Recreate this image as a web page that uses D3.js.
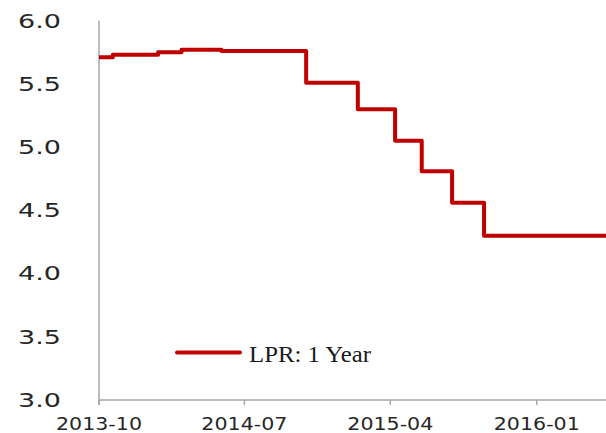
<!DOCTYPE html>
<html>
<head>
<meta charset="utf-8">
<script src="https://cdn.jsdelivr.net/npm/d3@7"></script>
<style>
  body { margin: 0; background: #fff; }
  svg { display: block; }
</style>
</head>
<body>
<script>
// LPR 1 year, step dates and levels
var stepDates = ["2013-10-01", "2013-10-27", "2014-01-20", "2014-03-05", "2014-05-19",
  "2014-10-25", "2015-01-30", "2015-04-10", "2015-05-30", "2015-07-26", "2015-09-24", "2016-05-10"];
var stepValues = [5.71, 5.73, 5.75, 5.77, 5.76, 5.51, 5.30, 5.05, 4.81, 4.56, 4.30, 4.30];
var xTickDates = ["2013-10-01", "2014-07-01", "2015-04-01", "2016-01-01"];
var yTicks = [3.0, 3.5, 4.0, 4.5, 5.0, 5.5, 6.0];
var seriesName = "LPR: 1 Year";

var w = 606, h = 433;
var parse = d3.timeParse("%Y-%m-%d");
var fmt = d3.timeFormat("%Y-%m");

var data = stepDates.map(function (d, i) { return {date: parse(d), value: stepValues[i]}; });

var x = d3.scaleTime()
  .domain([parse("2013-10-01"), parse("2016-05-10")])
  .range([99, 606]);
var y = d3.scaleLinear().domain([3, 6]).range([400, 20.7]);

var svg = d3.select("body").append("svg")
  .attr("width", w)
  .attr("height", h);

var axisColor = "#a6a6a6";

// y axis line (runs a little past the x axis)
svg.append("line")
  .attr("x1", x.range()[0]).attr("x2", x.range()[0])
  .attr("y1", y(6)).attr("y2", y(3) + 5)
  .style("stroke", axisColor).style("stroke-width", 1.5);

// x axis line and ticks
svg.append("line")
  .attr("x1", x.range()[0]).attr("x2", x.range()[1])
  .attr("y1", y(3)).attr("y2", y(3))
  .style("stroke", axisColor).style("stroke-width", 1.5);

svg.selectAll(".xtick")
  .data(xTickDates.map(parse))
  .enter().append("line")
  .attr("class", "xtick")
  .attr("x1", function (d) { return x(d); }).attr("x2", function (d) { return x(d); })
  .attr("y1", y(3)).attr("y2", y(3) + 5)
  .style("stroke", axisColor).style("stroke-width", 1.5);

// tick labels
svg.selectAll(".ylabel")
  .data(yTicks)
  .enter().append("text")
  .attr("class", "ylabel")
  .attr("x", 18)
  .attr("y", function (d) { return y(d) + 6.8; })
  .attr("textLength", 43)
  .attr("lengthAdjust", "spacingAndGlyphs")
  .style("font-family", "DejaVu Sans")
  .style("font-size", "19px")
  .style("fill", "#262626")
  .text(function (d) { return d.toFixed(1); });

svg.selectAll(".xlabel")
  .data(xTickDates.map(parse))
  .enter().append("text")
  .attr("class", "xlabel")
  .attr("x", function (d) { return x(d) - 43; })
  .attr("y", 430)
  .attr("textLength", 86)
  .attr("lengthAdjust", "spacingAndGlyphs")
  .style("font-family", "DejaVu Sans")
  .style("font-size", "18px")
  .style("fill", "#262626")
  .text(function (d) { return fmt(d); });

// the series
var line = d3.line()
  .x(function (d) { return x(d.date); })
  .y(function (d) { return y(d.value); })
  .curve(d3.curveStepAfter);

svg.append("path")
  .datum(data)
  .attr("d", line)
  .style("fill", "none")
  .style("stroke", "#c00000")
  .style("stroke-width", 4)
  .style("stroke-linejoin", "round");

// legend
var legend = svg.append("g").attr("transform", "translate(175,352.5)");

legend.append("line")
  .attr("x1", 2).attr("x2", 65)
  .attr("y1", 0).attr("y2", 0)
  .style("stroke", "#c00000")
  .style("stroke-width", 4)
  .style("stroke-linecap", "round");

legend.append("text")
  .attr("x", 74)
  .attr("y", 9.5)
  .attr("textLength", 122)
  .attr("lengthAdjust", "spacingAndGlyphs")
  .style("font-family", "Liberation Serif")
  .style("font-size", "24px")
  .style("fill", "#1a1a1a")
  .text(seriesName);
</script>
</body>
</html>
